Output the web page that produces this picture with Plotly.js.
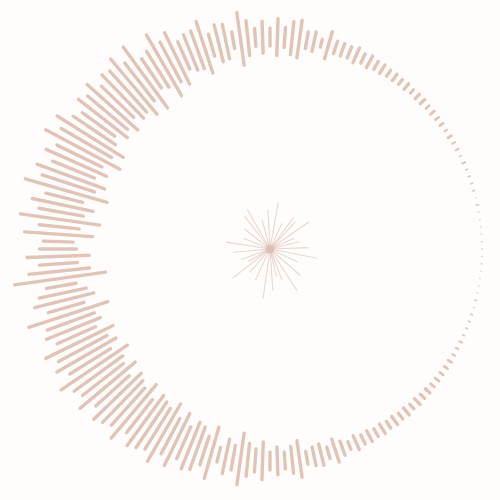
<!DOCTYPE html>
<html>
<head>
<meta charset="utf-8">
<script src="https://cdn.plot.ly/plotly-3.0.1.min.js"></script>
<style>
  html, body { margin: 0; padding: 0; background: #fffdfb; }
  #chart { width: 500px; height: 500px; }
  .js-line { stroke-linecap: round; }
  /* let the ring spill past the polar circle */
  #chart [clip-path] { clip-path: none !important; }
</style>
</head>
<body>
<div id="chart"></div>
<script>
// Ring of radial bars: one bar every 2 degrees, counter-clockwise from east
var barAngles = [];
for (var a = 0; a < 360; a += 2) barAngles.push(a);

// Bar lengths (px), same order as barAngles
var barLengths = [
   1,  1,  1,  1,  1,  1,  2,  1,  2,  2,   // 0-18
   2,  2,  3,  2,  3,  3,  4,  3,  4,  4,   // 20-38
   5,  4,  6,  6,  5,  7,  6,  8,  7, 10,   // 40-58
   9, 13, 10, 16, 12, 13, 13, 28,  8, 20,   // 60-78
  17, 38, 33, 20, 37, 18, 32, 18, 35, 53,   // 80-98
  17, 35, 38, 23, 54, 40, 38, 30, 57, 45,   // 100-118
  70, 42, 35, 75, 48, 72, 55, 60, 45, 68,   // 120-138
  52, 62, 40, 51, 78, 58, 84, 50, 66, 45,   // 140-158
  72, 55, 85, 38, 62, 45, 80, 40, 68, 30,   // 160-178
  37, 62, 38, 61, 92, 30, 48, 61, 37, 83,   // 180-198
  50, 58, 42, 75, 55, 68, 48, 80, 60, 52,   // 200-218
  72, 45, 66, 58, 50, 70, 42, 62, 55, 48,   // 220-238
  66, 40, 58, 35, 50, 45, 30, 53, 15, 35,   // 240-258
  25, 52, 33, 23, 38, 18, 28, 17, 27, 37,   // 260-278
  13, 19, 22, 12, 24, 15,  8, 15, 10, 12,   // 280-298
   9, 11,  8, 10,  7,  9,  6,  8,  6,  6,   // 300-318
   5,  5,  4,  4,  4,  3,  3,  3,  2,  2,   // 320-338
   2,  2,  1,  2,  1,  1,  1,  1,  1,  1    // 340-358
];

// Central starburst rays
var rayAngles  = [2, 14, 24, 35, 47, 53, 65, 80, 93, 105, 120, 128, 142, 158, 171,
                  185, 200, 210, 218, 229, 245, 262, 274, 283, 291, 303, 319, 335, 349];
var rayLengths = [38, 30, 26, 47, 37, 39, 28, 47, 39, 30, 45, 41, 32, 28, 44,
                  37, 30, 25, 47, 30, 34, 50, 41, 28, 33, 49, 40, 30, 47];

var RING = 212; // radius the bars are centred on

// short bars are also thinner: [min length, stroke width, colour]
var tiers = [
    [6, 3.4, '#e0c4b8'],
    [4, 2.8, '#e0c4b8'],
    [3, 2.2, '#e2c8bd'],
    [2, 1.8, '#e4ccc2'],
    [0, 1.3, '#e8d4cb']
];

function tierOf(len) {
    for (var k = 0; k < tiers.length; k++) if (len >= tiers[k][0]) return k;
    return tiers.length - 1;
}

var data = tiers.map(function (tier, k) {
    var r = [], th = [];
    barAngles.forEach(function (t, i) {
        if (tierOf(barLengths[i]) !== k) return;
        var half = barLengths[i] / 2;
        r.push(RING - half, RING + half, null);
        th.push(t, t, null);
    });
    return {
        type: 'scatterpolar',
        mode: 'lines',
        r: r,
        theta: th,
        line: { color: tier[2], width: tier[1] },
        connectgaps: false,
        cliponaxis: false,
        hoverinfo: 'skip'
    };
});

var rayR = [], rayT = [];
rayAngles.forEach(function (t, i) {
    rayR.push(0, rayLengths[i], null);
    rayT.push(t, t, null);
});

data.push({
    type: 'scatterpolar',
    mode: 'lines',
    r: rayR,
    theta: rayT,
    line: { color: 'rgba(214,178,166,0.5)', width: 1.1 },
    connectgaps: false,
    cliponaxis: false,
    hoverinfo: 'skip'
});

data.push({
    type: 'scatterpolar',
    mode: 'markers',
    r: [0],
    theta: [0],
    marker: { color: 'rgba(220,190,180,0.85)', size: 9 },
    cliponaxis: false,
    hoverinfo: 'skip'
});

var layout = {
    width: 500,
    height: 500,
    margin: { l: 0, r: 0, t: 0, b: 0 },
    paper_bgcolor: '#fffdfb',
    showlegend: false,
    polar: {
        domain: { x: [0.08, 1.0], y: [0.042, 0.962] },
        bgcolor: 'rgba(0,0,0,0)',
        radialaxis: { visible: false, range: [0, 230] },
        angularaxis: { visible: false, rotation: 0, direction: 'counterclockwise' }
    }
};

Plotly.newPlot('chart', data, layout, { displayModeBar: false, staticPlot: true });
</script>
</body>
</html>
